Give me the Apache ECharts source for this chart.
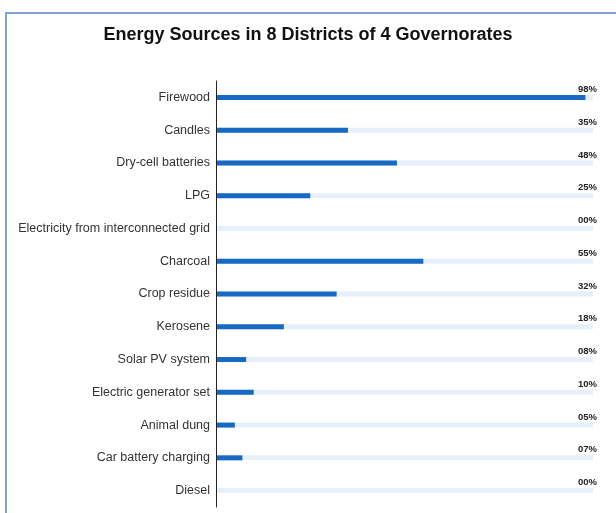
<!DOCTYPE html>
<html>
<head>
<meta charset="utf-8">
<script src="https://cdn.jsdelivr.net/npm/echarts@6/dist/echarts.min.js"></script>
<style>
  html, body { margin: 0; padding: 0; background: #fff; }
  #chart { width: 616px; height: 513px; }
</style>
</head>
<body>
<div id="chart"></div>
<script>
// energy sources, top to bottom
var sources = ['Firewood', 'Candles', 'Dry-cell batteries', 'LPG', 'Electricity from interconnected grid',
  'Charcoal', 'Crop residue', 'Kerosene', 'Solar PV system', 'Electric generator set',
  'Animal dung', 'Car battery charging', 'Diesel'];
// share of households (%)
var shares = [98, 35, 48, 25, 0, 55, 32, 18, 8, 10, 5, 7, 0];
// labels shown at the right end of each row
var shareLabels = shares.map(function (v) { return (v < 10 ? '0' : '') + v + '%'; });

var chart = echarts.init(document.getElementById('chart'));
var font = '"Liberation Sans Narrow", "Liberation Sans", sans-serif';

chart.setOption({
  animation: false,
  title: {
    text: 'Energy Sources in 8 Districts of 4 Governorates',
    left: 'center',
    top: 21,
    textStyle: { fontFamily: font, fontSize: 18, fontWeight: 'bold', color: '#111' }
  },
  graphic: [{
    type: 'rect',
    shape: { x: 6, y: 13, width: 640, height: 540 },
    style: { fill: 'none', stroke: '#7fa3d4', lineWidth: 2 },
    silent: true
  }],
  grid: { left: 216, width: 377, top: 81, bottom: 6 },
  xAxis: {
    type: 'value',
    min: 0,
    max: 100,
    show: false
  },
  yAxis: [{
    type: 'category',
    data: sources,
    inverse: true,
    z: 5,
    axisLine: { show: true, lineStyle: { color: '#222', width: 1 } },
    axisTick: { show: false },
    axisLabel: { fontFamily: font, fontSize: 12.5, color: '#333', margin: 6 }
  }, {
    type: 'category',
    data: shareLabels,
    inverse: true,
    position: 'right',
    axisLine: { show: false },
    axisTick: { show: false },
    axisLabel: {
      fontFamily: font, fontSize: 9.5, fontWeight: 'bold', color: '#222',
      align: 'right', margin: 4, verticalAlign: 'bottom', padding: [0, 0, 3, 0]
    }
  }],
  series: [{
    type: 'bar',
    data: shares,
    barWidth: 5,
    itemStyle: { color: '#1769c4' },
    showBackground: true,
    backgroundStyle: { color: '#e6f0fb' }
  }]
});
</script>
</body>
</html>
